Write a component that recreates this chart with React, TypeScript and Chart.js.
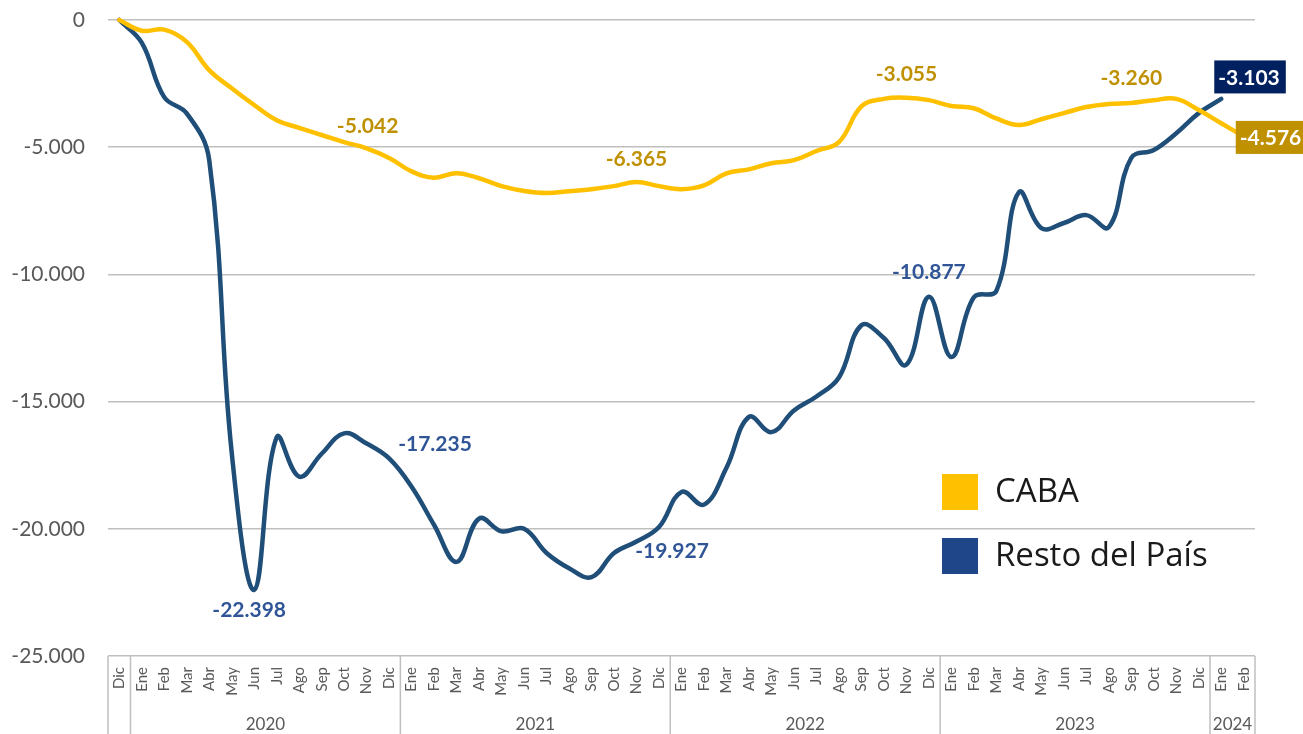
import React, { useEffect, useRef } from 'react';
import { Chart, registerables } from 'chart.js';

Chart.register(...registerables);

const monthLabels = [
  'Dic',
  'Ene', 'Feb', 'Mar', 'Abr', 'May', 'Jun', 'Jul', 'Ago', 'Sep', 'Oct', 'Nov', 'Dic',
  'Ene', 'Feb', 'Mar', 'Abr', 'May', 'Jun', 'Jul', 'Ago', 'Sep', 'Oct', 'Nov', 'Dic',
  'Ene', 'Feb', 'Mar', 'Abr', 'May', 'Jun', 'Jul', 'Ago', 'Sep', 'Oct', 'Nov', 'Dic',
  'Ene', 'Feb', 'Mar', 'Abr', 'May', 'Jun', 'Jul', 'Ago', 'Sep', 'Oct', 'Nov', 'Dic',
  'Ene', 'Feb',
];
const yearLabels = ['', '2020', '2021', '2022', '2023', '2024'];
const yearSpans = [1, 12, 12, 12, 12, 2];

const cabaValues = [
  0,
  -420, -380, -860, -1970, -2680, -3340, -3940, -4240, -4520, -4800, -5042, -5420,
  -5950, -6200, -6020, -6220, -6530, -6720, -6800, -6730, -6650, -6530, -6365, -6530,
  -6650, -6500, -6030, -5870, -5630, -5510, -5150, -4800, -3400, -3100, -3055, -3150,
  -3380, -3470, -3870, -4130, -3900, -3660, -3420, -3300, -3260, -3150, -3100, -3540,
  -4060, -4576,
];
const restoValues = [
  0,
  -890, -3030, -3670, -5500, -17000, -22398, -16400, -17950, -17050, -16250, -16650, -17235,
  -18350, -19850, -21300, -19600, -20100, -20000, -20950, -21550, -21900, -20950, -20500, -19927,
  -18550, -19050, -17600, -15600, -16200, -15350, -14800, -14050, -12000, -12500, -13550, -10877,
  -13250, -10900, -10650, -6770, -8180, -7980, -7670, -8140, -5420, -5110, -4450, -3660,
  -3103, null,
];
const seriesNames = ['CABA', 'Resto del País'];
const cabaLabeled = [11, 23, 35, 45, 50];
const restoLabeled = [6, 12, 24, 36, 49];
const yMin = -25000;
const yMax = 0;
const yStep = 5000;

const FONT = 'Lato, "Open Sans", sans-serif';
const LEGEND_FONT = '"Open Sans", "Noto Sans", sans-serif';
const W = 1303;
const H = 734;

const fmt = (v: number) => {
  const s = Math.abs(Math.round(v)).toString().replace(/\B(?=(\d{3})+(?!\d))/g, '.');
  return (v < 0 ? '-' : '') + s;
};

type LabelStyle = { dx: number; dy: number; align: CanvasTextAlign; box?: string; color: string; boxLeft?: number };

const cabaStyles: LabelStyle[] = [
  { dx: 1, dy: -22, align: 'center', color: '#BF9000' },
  { dx: 0, dy: -23, align: 'center', color: '#BF9000' },
  { dx: 0, dy: -23, align: 'center', color: '#BF9000' },
  { dx: 0, dy: -25, align: 'center', color: '#BF9000' },
  { dx: 0, dy: 1, align: 'left', color: '#FFFFFF', box: '#BF9000', boxLeft: -8 },
];
const restoStyles: LabelStyle[] = [
  { dx: -5, dy: 20, align: 'center', color: '#2F5597' },
  { dx: 9, dy: -14, align: 'left', color: '#2F5597' },
  { dx: 13, dy: 24, align: 'center', color: '#2F5597' },
  { dx: 0, dy: -24, align: 'center', color: '#2F5597' },
  { dx: 0, dy: -22, align: 'left', color: '#FFFFFF', box: '#002060', boxLeft: -7 },
];

const dataLabelPlugin = {
  id: 'dataLabels',
  afterDatasetsDraw(chart: any) {
    const ctx: CanvasRenderingContext2D = chart.ctx;
    ctx.save();
    ctx.font = `bold 21px ${FONT}`;
    ctx.textBaseline = 'middle';
    const sets: [number, number[], LabelStyle[], (number | null)[]][] = [
      [0, cabaLabeled, cabaStyles, cabaValues],
      [1, restoLabeled, restoStyles, restoValues],
    ];
    sets.forEach(([dsIndex, idxs, styles, values]) => {
      const meta = chart.getDatasetMeta(dsIndex);
      idxs.forEach((i, k) => {
        const pt = meta.data[i];
        const v = values[i];
        if (!pt || v == null) return;
        const st = styles[k];
        const text = fmt(v);
        const cy = pt.y + st.dy;
        if (st.box) {
          const tw = ctx.measureText(text).width;
          const bx = pt.x + (st.boxLeft || 0);
          const bw = tw + 10;
          const bh = 33;
          ctx.fillStyle = st.box;
          ctx.fillRect(bx, cy - bh / 2, bw, bh);
          ctx.fillStyle = st.color;
          ctx.textAlign = 'left';
          ctx.fillText(text, bx + 4, cy + 1);
        } else {
          ctx.fillStyle = st.color;
          ctx.textAlign = st.align;
          ctx.fillText(text, pt.x + st.dx, cy);
        }
      });
    });
    ctx.restore();
  },
};

const axisPlugin = {
  id: 'groupedAxis',
  afterDraw(chart: any) {
    const ctx: CanvasRenderingContext2D = chart.ctx;
    const xs = chart.scales.x;
    const area = chart.chartArea;
    const band = (area.right - area.left) / monthLabels.length;
    ctx.save();
    ctx.fillStyle = '#595959';
    ctx.font = `15px ${FONT}`;
    ctx.textAlign = 'right';
    ctx.textBaseline = 'middle';
    monthLabels.forEach((m, i) => {
      const px = xs.getPixelForValue(i);
      ctx.save();
      ctx.translate(px, area.bottom + 11);
      ctx.rotate(-Math.PI / 2);
      ctx.fillText(m, 0, 0);
      ctx.restore();
    });
    ctx.strokeStyle = '#BFBFBF';
    ctx.lineWidth = 1.5;
    const sep = (px: number) => {
      ctx.beginPath();
      ctx.moveTo(px, area.bottom);
      ctx.lineTo(px, H);
      ctx.stroke();
    };
    sep(area.left);
    let idx = 0;
    ctx.font = `17px ${FONT}`;
    ctx.textAlign = 'center';
    yearSpans.forEach((span, k) => {
      const start = idx;
      idx += span;
      const left = xs.getPixelForValue(start) - band / 2;
      const right = xs.getPixelForValue(idx - 1) + band / 2;
      sep(right);
      if (yearLabels[k]) ctx.fillText(yearLabels[k], (left + right) / 2, 725);
    });
    ctx.restore();
  },
};

const legendPlugin = {
  id: 'customLegend',
  afterDraw(chart: any) {
    const ctx: CanvasRenderingContext2D = chart.ctx;
    ctx.save();
    const items = [
      { name: seriesNames[0], color: '#FFC000', y: 474 },
      { name: seriesNames[1], color: '#1F4688', y: 538 },
    ];
    ctx.font = `33px ${LEGEND_FONT}`;
    ctx.textBaseline = 'middle';
    ctx.textAlign = 'left';
    items.forEach((it) => {
      ctx.fillStyle = it.color;
      ctx.fillRect(942, it.y, 36, 36);
      ctx.fillStyle = '#1A1A1A';
      ctx.fillText(it.name, 995, it.y + 19);
    });
    ctx.restore();
  },
};

export default function App() {
  const ref = useRef<HTMLCanvasElement | null>(null);
  useEffect(() => {
    document.body.style.margin = '0';
    const canvas = ref.current;
    if (!canvas) return;
    const chart = new Chart(canvas, {
      type: 'line',
      data: {
        labels: monthLabels,
        datasets: [
          {
            label: seriesNames[0],
            data: cabaValues,
            borderColor: '#FFC000',
            backgroundColor: '#FFC000',
            borderWidth: 4.5,
            pointRadius: 0,
            tension: 0.4,
            borderCapStyle: 'round',
            borderJoinStyle: 'round',
            clip: false as any,
          },
          {
            label: seriesNames[1],
            data: restoValues,
            borderColor: '#1F4E79',
            backgroundColor: '#1F4E79',
            borderWidth: 4.5,
            pointRadius: 0,
            tension: 0.4,
            borderCapStyle: 'round',
            borderJoinStyle: 'round',
            spanGaps: false,
            clip: false as any,
          },
        ],
      },
      options: {
        animation: false,
        responsive: false,
        maintainAspectRatio: false,
        layout: { autoPadding: false, padding: { left: 0, right: 48, top: 20, bottom: 78 } },
        plugins: {
          legend: { display: false },
          tooltip: { enabled: false },
        },
        scales: {
          x: {
            type: 'category',
            offset: true,
            display: false,
          },
          y: {
            min: yMin,
            max: yMax,
            border: { display: false },
            grid: { color: '#BFBFBF', lineWidth: 1.5, drawTicks: false },
            ticks: {
              stepSize: yStep,
              padding: 23,
              color: '#595959',
              font: { family: FONT, size: 21 },
              callback: (v: any) => fmt(Number(v)),
            },
            afterFit: (s: any) => {
              s.width = 108;
              s.paddingTop = 0;
              s.paddingBottom = 0;
            },
          },
        },
      },
      plugins: [dataLabelPlugin, axisPlugin, legendPlugin],
    });
    return () => chart.destroy();
  }, []);
  return (
    <div style={{ position: 'absolute', left: 0, top: 0, width: W, height: H }}>
      <canvas ref={ref} width={W} height={H} style={{ width: W, height: H, display: 'block' }} />
    </div>
  );
}
